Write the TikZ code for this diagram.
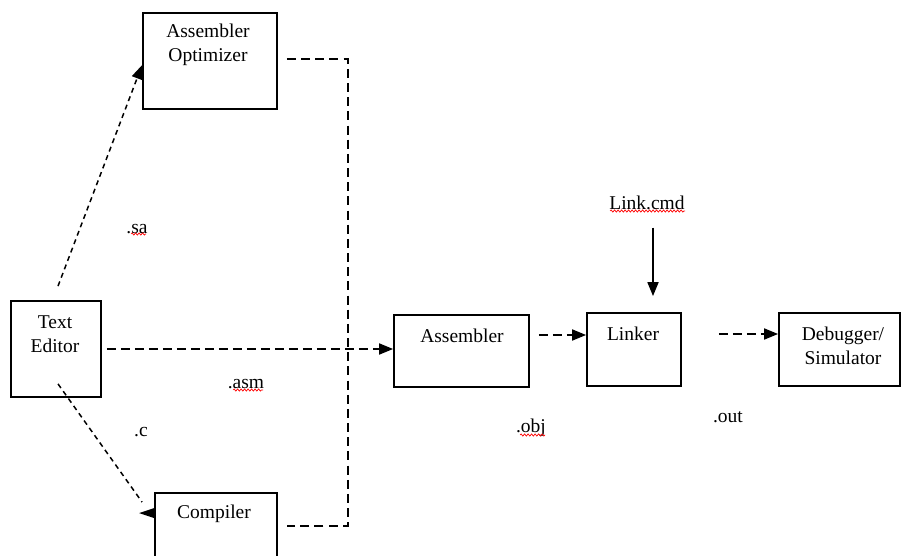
\documentclass[tikz,border=0pt]{standalone}
\usepackage{fontspec}
\setmainfont{Liberation Serif}
\usetikzlibrary{arrows.meta,decorations.pathmorphing,calc}

\begin{document}
\begin{tikzpicture}[x=1pt,y=-1pt,
  font=\fontsize{19.5}{24}\selectfont,
  box/.style={draw,line width=1.8pt,inner sep=0pt},
  lbl/.style={inner sep=0pt,align=center},
  flow/.style={line width=1.8pt,dash pattern=on 9pt off 5pt},
  fineflow/.style={line width=1.5pt,dash pattern=on 5pt off 4pt},
  tip/.style={-{Triangle[length=14pt,width=11pt]}},
  squiggle/.style={red,line width=0.7pt,decorate,
    decoration={snake,amplitude=1.1pt,segment length=3.5pt}}]

\useasboundingbox (0,0) rectangle (902,556);

% processing blocks
\node[box,minimum width=134pt,minimum height=96pt] (opt)  at (210,61)    {};
\node[box,minimum width=90pt, minimum height=96pt] (te)   at (56,349)    {};
\node[box,minimum width=122pt,minimum height=97pt] (comp) at (216,541.5) {};
\node[box,minimum width=135pt,minimum height=72pt] (asm)  at (461.5,351) {};
\node[box,minimum width=94pt, minimum height=73pt] (link) at (634,349.5) {};
\node[box,minimum width=121pt,minimum height=73pt] (dbg)  at (839.5,349.5) {};

% block captions
\node[lbl] (optT)  at (208,45)  {Assembler\\Optimizer};
\node[lbl] (teT)   at (55,334)  {Text\\Editor};
\node[lbl] (compT) at (214,514) {Compiler};
\node[lbl] (asmT)  at (462,336) {Assembler};
\node[lbl] (linkT) at (633,334) {Linker};
\node[lbl] (dbgT)  at (843,346) {Debugger/\\Simulator};

% file labels
\node[lbl] (lc)  at (647,203) {Link.cmd};
\node[lbl] (sa)  at (137,229) {.sa};
\node[lbl] (asmF) at (246,384) {.asm};
\node[lbl] (cF)  at (141,432) {.c};
\node[lbl] (obj) at (531,428) {.obj};
\node[lbl] (out) at (728,417) {.out};

% spelling marks under the file names
\draw[squiggle] (131,234) -- (146,234);
\draw[squiggle] (233,390) -- (263,390);
\draw[squiggle] (520,435) -- (545,435);
\draw[squiggle] (610,211) -- (685,211);

% optimizer and compiler outputs join the assembler input
\draw[flow,dash pattern=on 9pt off 5.17pt] ([shift={(9,-2)}]opt.east) -- ++(61,0) coordinate (j1)
  -- (j1 |- comp.north east) -- ++(0,34) coordinate (j2)
  -- ([shift={(9,0)}]comp.east |- j2);

% editor outputs
\draw[fineflow,tip] ([shift={(2,-14)}]te.north) -- ([shift={(0,53)}]opt.north west);
\draw[fineflow] ([shift={(2,-14)}]te.south) -- ([shift={(-12,10)}]comp.north west);
\fill ([shift={(0,21)}]comp.north west) ++(-15,0) -- ++(15,-5) -- ++(0,10) -- cycle;
\draw[flow,tip] ([shift={(5,0)}]te.east) -- (asm.west |- te.east);

% assembler -> linker -> debugger
\draw[flow,tip] ([shift={(9,-16)}]asm.east) coordinate (a1) -- (link.west |- a1);
\draw[flow,tip] ([shift={(37,-15.5)}]link.east) coordinate (a2) -- (dbg.west |- a2);

% linker command file
\draw[line width=1.8pt,tip] ([shift={(6,17.5)}]lc.south) -- ([shift={(19,-16)}]link.north);

\end{tikzpicture}
\end{document}
